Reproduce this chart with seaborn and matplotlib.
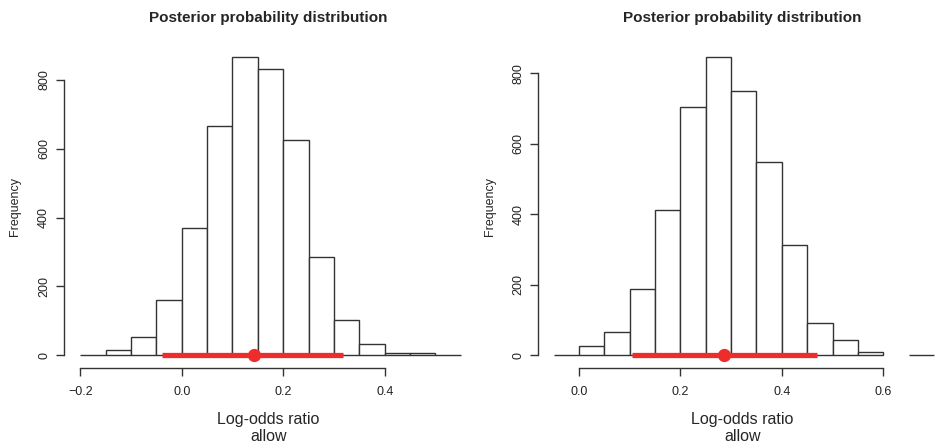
import numpy as np
import pandas as pd
import matplotlib
matplotlib.use("Agg")
import matplotlib.pyplot as plt
import seaborn as sns

sns.set_style("white")
plt.rcParams['font.family'] = ['Liberation Sans', 'DejaVu Sans']

# ---- data ----
left_edges = [-0.20, -0.15, -0.10, -0.05, 0.00, 0.05, 0.10, 0.15, 0.20, 0.25,
              0.30, 0.35, 0.40, 0.45, 0.50, 0.55]
left_counts = [2, 14, 53, 161, 370, 665, 866, 831, 625, 286, 104, 32, 6, 6, 2]
left_ci = [-0.038, 0.318]
left_point = 0.142
left_xticks = [-0.2, 0.0, 0.2, 0.4]
left_xticklabels = ["\u22120.2", "0.0", "0.2", "0.4"]

right_edges = [-0.05, 0.00, 0.05, 0.10, 0.15, 0.20, 0.25, 0.30, 0.35, 0.40,
               0.45, 0.50, 0.55, 0.60, 0.65, 0.70]
right_counts = [2, 26, 65, 189, 413, 704, 845, 751, 548, 312, 92, 44, 10, 0, 2]
right_ci = [0.104, 0.470]
right_point = 0.286
right_xticks = [0.0, 0.2, 0.4, 0.6]
right_xticklabels = ["0.0", "0.2", "0.4", "0.6"]

yticks = [0, 200, 400, 600, 800]
title = "Posterior probability distribution"
xlabel = "Log-odds ratio\nallow"
ylabel = "Frequency"

W, H = 935, 445
fig = plt.figure(figsize=(W / 100, H / 100), dpi=100)


def px_axes(x0, x1, ytop, ybot):
    return fig.add_axes([x0 / W, 1 - ybot / H, (x1 - x0) / W, (ybot - ytop) / H])


def panel(ax, edges, counts, ci, point, xticks, xticklabels, xlim, ylim):
    e = np.asarray(edges, dtype=float)
    centers = list((e[:-1] + e[1:]) / 2)
    df = pd.DataFrame({"x": centers, "w": [float(c) for c in counts]})
    sns.histplot(data=df, x="x", weights="w", bins=list(edges), ax=ax,
                 color="white", edgecolor="#333333", linewidth=1.0,
                 alpha=1.0, stat="count")
    for p in list(ax.patches):
        if p.get_height() == 0:
            p.remove()
    ax.plot(ci, [0, 0], color="#EE2C2C", lw=3.8, solid_capstyle="butt",
            zorder=5, clip_on=False)
    ax.plot([point], [0], "o", color="#EE2C2C", ms=8.5, zorder=6, clip_on=False)
    ax.set_xlim(*xlim)
    ax.set_ylim(*ylim)
    for s in ["top", "right"]:
        ax.spines[s].set_visible(False)
    ax.spines["left"].set_bounds(0, 800)
    ax.spines["bottom"].set_bounds(xticks[0], xticks[-1])
    for s in ["left", "bottom"]:
        ax.spines[s].set_color("#333333")
        ax.spines[s].set_linewidth(1.0)
    ax.set_yticks(yticks)
    ax.set_yticklabels([str(v) for v in yticks], rotation=90, va="center",
                       fontsize=9, color="#222222")
    ax.set_xticks(xticks)
    ax.set_xticklabels(xticklabels, fontsize=9, color="#222222")
    ax.tick_params(axis="both", length=6, width=1.0, color="#333333",
                   direction="out", bottom=True, left=True)
    ax.tick_params(axis="x", pad=7)
    ax.tick_params(axis="y", pad=4)
    ax.set_xlabel(xlabel, fontsize=11.5, labelpad=10, linespacing=1.15)
    ax.set_ylabel(ylabel, fontsize=9, labelpad=12)
    ax.set_title(title, fontsize=11, fontweight="bold", pad=17)


ax1 = px_axes(64, 473, 45.5, 368)
panel(ax1, left_edges, left_counts, left_ci, left_point, left_xticks,
      left_xticklabels, ((64 - 181.7) / 507.5, (473 - 181.7) / 507.5),
      (-36.9, 900.3))

ax2 = px_axes(538.3, 946, 45.5, 368)
panel(ax2, right_edges, right_counts, right_ci, right_point, right_xticks,
      right_xticklabels, ((538.3 - 579) / 507, (946 - 579) / 507),
      (-36.0, 878.9))

fig.savefig("out.png", dpi=100)
